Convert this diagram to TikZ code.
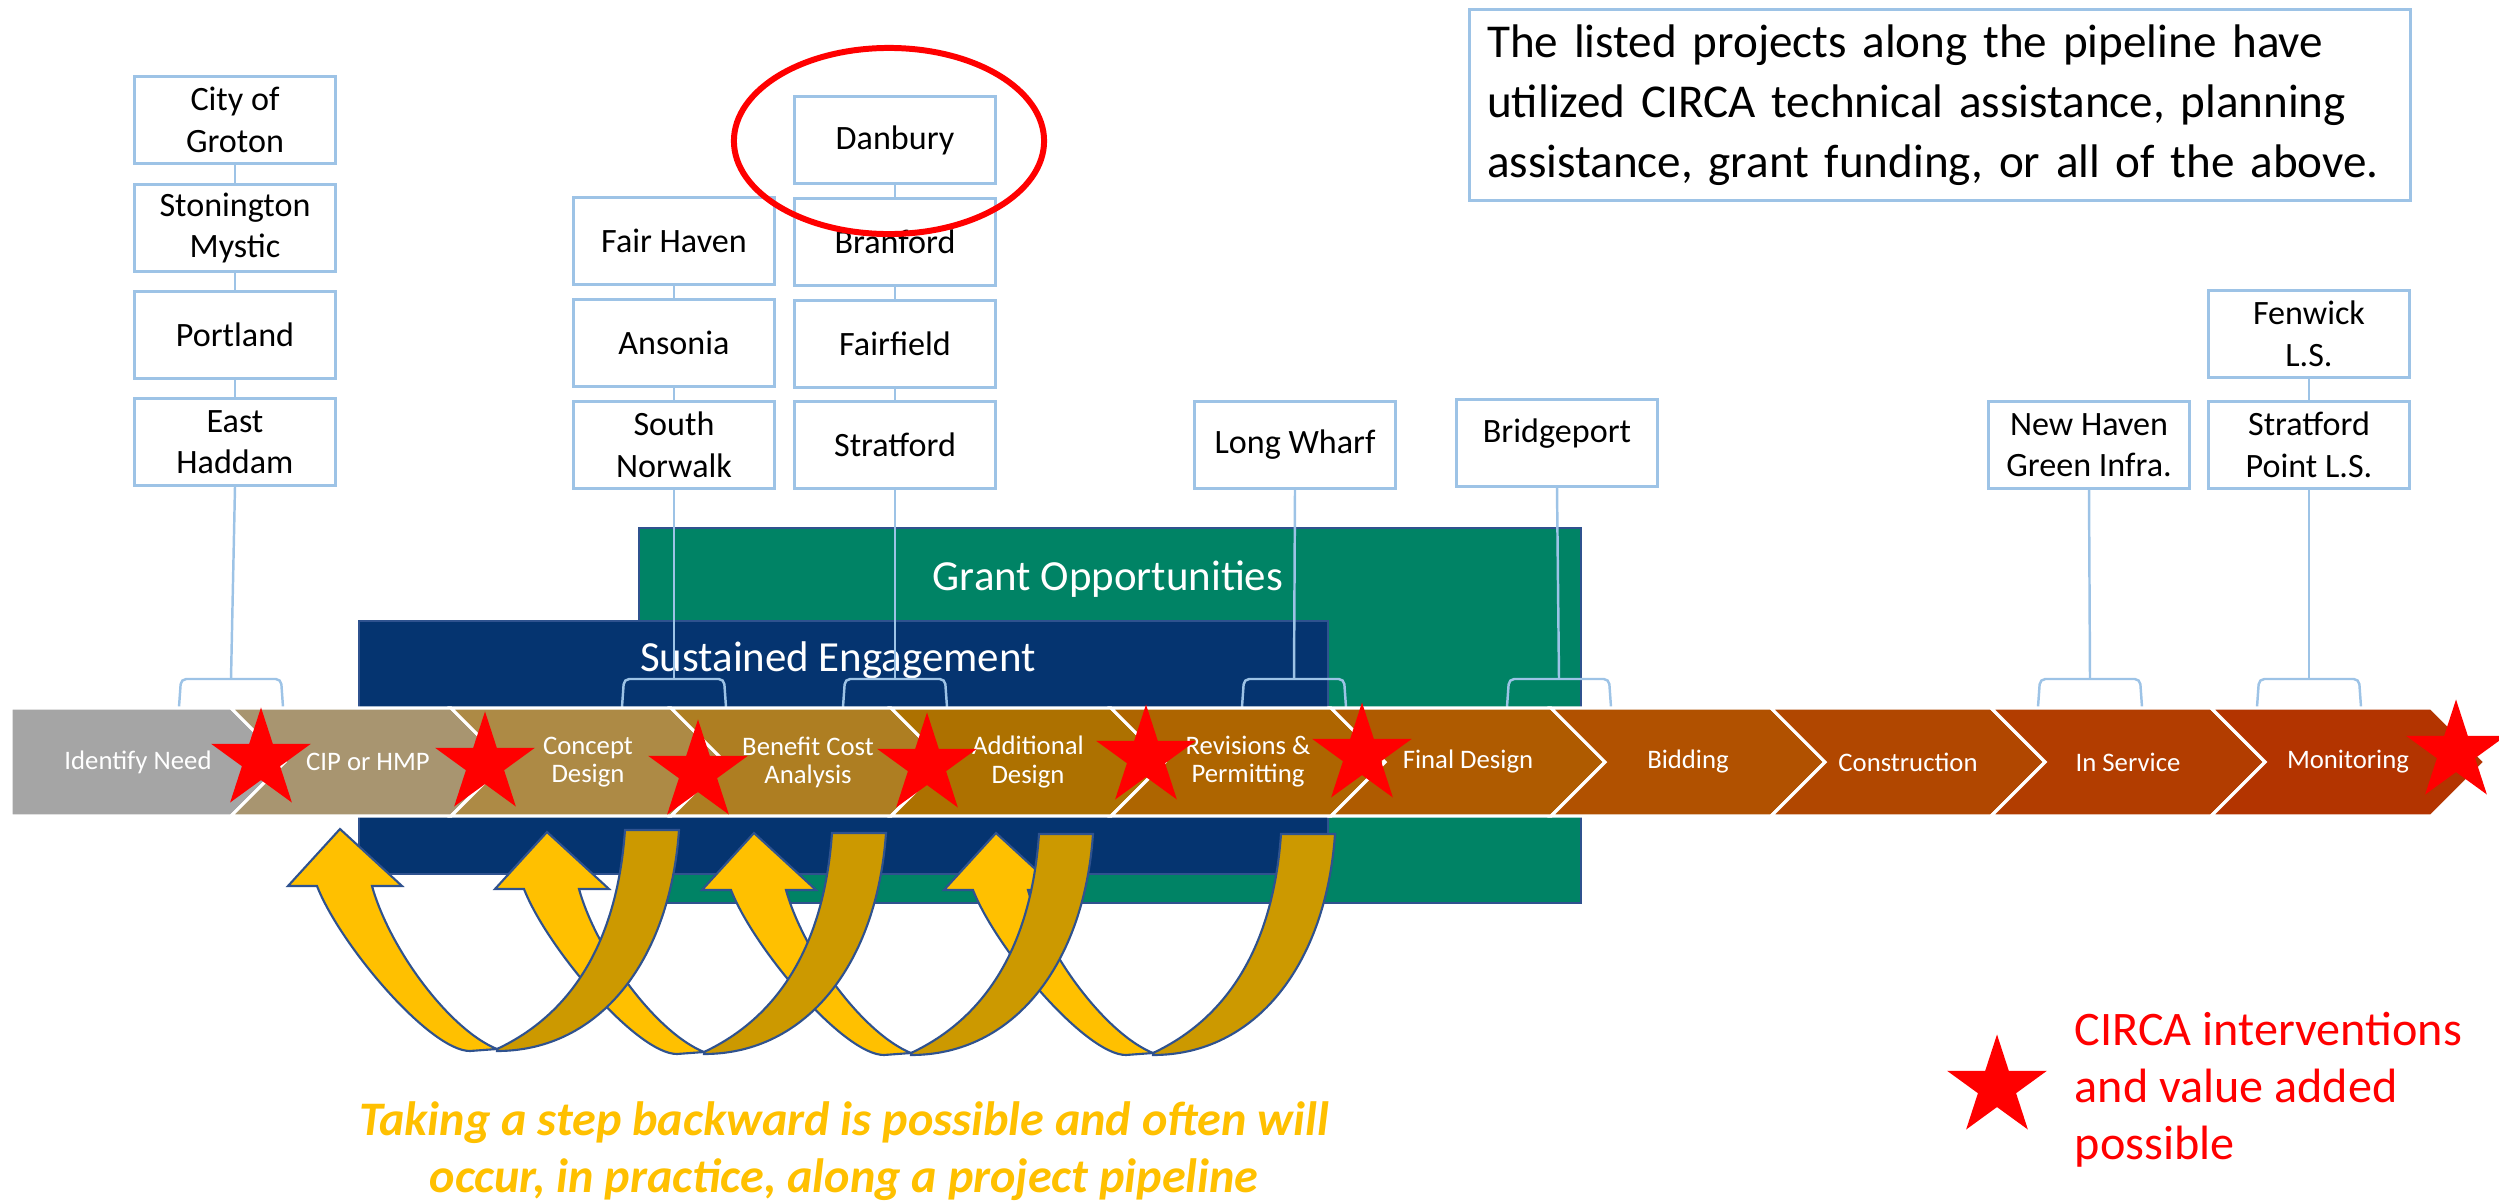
\documentclass[tikz,border=0pt]{standalone}
\usepackage{fontspec}
\setmainfont{Carlito}
\usetikzlibrary{shapes.geometric}

\definecolor{boxblue}{RGB}{157,195,230}
\definecolor{grantgreen}{RGB}{0,131,101}
\definecolor{engageblue}{RGB}{5,52,112}
\definecolor{edgeblue}{RGB}{47,82,143}
\definecolor{gold}{RGB}{255,192,0}
\definecolor{darkgold}{RGB}{204,153,0}
\definecolor{chev0}{RGB}{165,165,165}
\definecolor{chev1}{RGB}{168,149,112}
\definecolor{chev2}{RGB}{173,138,69}
\definecolor{chev3}{RGB}{174,126,34}
\definecolor{chev4}{RGB}{173,113,0}
\definecolor{chev5}{RGB}{174,101,0}
\definecolor{chev6}{RGB}{175,91,0}
\definecolor{chev7}{RGB}{177,81,0}
\definecolor{chev8}{RGB}{177,71,0}
\definecolor{chev9}{RGB}{178,61,0}
\definecolor{chev10}{RGB}{179,52,0}

\tikzset{
    citybox/.style={draw=boxblue, line width=0.8pt, fill=white, minimum width=2.01cm, minimum height=0.87cm, inner sep=0pt, align=center, font=\fontsize{9.7}{11.8}\selectfont},
    link/.style={draw=boxblue, line width=0.7pt},
    chevron/.style={draw=white, line width=0.9pt},
    chevtext/.style={text=white, align=center, inner sep=0pt, font=\fontsize{7.6}{8}\selectfont},
    circastar/.style={star, star points=5, star point ratio=2.618, fill=red, inner sep=0pt, minimum size=1.05cm},
    uturn/.style={draw=edgeblue, line width=0.6pt},
    bandtext/.style={text=white, font=\fontsize{12.2}{14}\selectfont},
    bigtext/.style={inner sep=0pt, font=\fontsize{13.7}{16.2}\selectfont}
}

\begin{document}
\begin{tikzpicture}[x=0.01cm, y=-0.01cm]
    \useasboundingbox (0,0) rectangle (2499,1203);
    \clip (0,0) rectangle (2499,1203);

    \node (grant) [fill=grantgreen, draw=edgeblue, line width=0.6pt, minimum width=9.41cm, minimum height=3.75cm, inner sep=0pt, anchor=north west] at (638,527) {};
    \node (engage) [fill=engageblue, draw=edgeblue, line width=0.6pt, minimum width=9.68cm, minimum height=2.53cm, inner sep=0pt, anchor=north west] at (358,620) {};
    \node (grantlbl) [bandtext] at (1108,579) {Grant Opportunities};
    \node (engagelbl) [bandtext] at (838,660) {Sustained Engagement};

    \node (groton) [citybox] at (235,120) {City of\\Groton};
    \node (stonington) [citybox] at (235,228) {Stonington\\Mystic};
    \node (portland) [citybox] at (235,335) {Portland};
    \node (haddam) [citybox] at (235,442) {East\\Haddam};

    \node (fairhaven) [citybox] at (674,241) {Fair Haven};
    \node (ansonia) [citybox] at (674,343) {Ansonia};
    \node (snorwalk) [citybox] at (674,445) {South\\Norwalk};

    \node (danbury) [citybox] at (895,140) {Danbury};
    \node (branford) [citybox] at (895,242) {Branford};
    \node (fairfield) [citybox] at (895,344) {Fairfield};
    \node (stratford) [citybox] at (895,445) {Stratford};

    \node (longwharf) [citybox] at (1295,445) {Long Wharf};
    \node (bridgeport) [citybox, text depth=0.25cm] at (1557,443) {Bridgeport};
    \node (newhaven) [citybox] at (2089,445) {New Haven\\Green Infra.};
    \node (fenwick) [citybox] at (2309,334) {Fenwick\\L.S.};
    \node (stratpt) [citybox] at (2309,445) {Stratford\\Point L.S.};

    \coordinate (br1) at (231,679);
    \coordinate (br2) at (674,679);
    \coordinate (br3) at (895,679);
    \coordinate (br4) at (1294,679);
    \coordinate (br5) at (1559,679);
    \coordinate (br6) at (2090,679);
    \coordinate (br7) at (2309,679);

    \draw [link] (groton.south) -- (stonington.north);
    \draw [link] (stonington.south) -- (portland.north);
    \draw [link] (portland.south) -- (haddam.north);
    \draw [link] (fairhaven.south) -- (ansonia.north);
    \draw [link] (ansonia.south) -- (snorwalk.north);
    \draw [link] (danbury.south) -- (branford.north);
    \draw [link] (branford.south) -- (fairfield.north);
    \draw [link] (fairfield.south) -- (stratford.north);
    \draw [link] (fenwick.south) -- (stratpt.north);

    \draw [link] (haddam.south) -- (br1);
    \draw [link] (snorwalk.south) -- (br2);
    \draw [link] (stratford.south) -- (br3);
    \draw [link] (longwharf.south) -- (br4);
    \draw [link] (bridgeport.south) -- (br5);
    \draw [link] (newhaven.south) -- (br6);
    \draw [link] (stratpt.south) -- (br7);
    \foreach \b in {1,...,7}
        \draw [link, rounded corners=1.5pt] (br\b) ++(-52,28) -- ++(2,-28) -- ++(100,0) -- ++(2,28);

    % pipeline
    \draw [chevron, fill=chev0] (11,708) -- (231,708) -- (285,762) -- (231,816) -- (11,816) -- cycle;
    \node (chev0) [chevtext] at (138,762) {Identify Need};
    \foreach \i/\lbl in {1/{CIP or HMP}, 2/{Concept\\Design}, 3/{Benefit Cost\\Analysis}, 4/{Additional\\Design}, 5/{Revisions \&\\Permitting}, 6/{Final Design}, 7/{Bidding}, 8/{Construction}, 9/{In Service}, 10/{Monitoring}} {
        \draw [chevron, fill=chev\i] (11+220*\i,708) -- (231+220*\i,708) -- (285+220*\i,762) -- (231+220*\i,816) -- (11+220*\i,816) -- (65+220*\i,762) -- cycle;
        \node (chev\i) [chevtext] at (148+220*\i,762) {\lbl};
    }

    \node (star1) [circastar] at (261,760) {};
    \node (star2) [circastar] at (485,764) {};
    \node (star3) [circastar] at (698,772) {};
    \node (star4) [circastar] at (927,765) {};
    \node (star5) [circastar] at (1146,757) {};
    \node (star6) [circastar] at (1362,755) {};
    \node (star7) [circastar] at (2456,752) {};

    % steps backward
    \foreach \dx/\dy in {656/4, 414/4, 207/3, 0/0} {
        \begin{scope}[shift={(\dx,\dy)}]
            \draw [uturn, fill=gold] (288,886) -- (340,829) -- (402,886) -- (372,886) .. controls (390,950) and (450,1030) .. (497,1049) -- (470,1051) .. controls (430,1051) and (340,945) .. (317,886) -- cycle;
            \draw [uturn, fill=darkgold] (625,830) -- (679,830) .. controls (670,960) and (600,1051) .. (497,1051) -- (497,1049) .. controls (580,1010) and (618,930) .. (625,830) -- cycle;
        \end{scope}
    }

    \node (ring) [draw=red, line width=1.7pt, ellipse, inner sep=0pt, minimum width=3.1cm, minimum height=1.86cm] at (889,141) {};

    \node (note) [draw=boxblue, line width=0.8pt, text width=9.05cm, inner xsep=0.18cm, minimum height=1.91cm, align=left, font=\fontsize{13.4}{17}\selectfont] at (1940,105) {The listed projects along the pipeline have\\utilized CIRCA technical assistance, planning\\assistance, grant funding, or all of the above.};

    \node (legstar) [circastar] at (1997,1087) {};
    \node (legtext) [bigtext, text=red, anchor=west, align=left] at (2074,1090) {CIRCA interventions\\and value added\\possible};

    \node (backnote) [bigtext, text=gold, align=center, font=\fontsize{13.7}{16.2}\selectfont\bfseries\itshape] at (844,1151) {Taking a step backward is possible and often will\\occur, in practice, along a project pipeline};
\end{tikzpicture}
\end{document}
